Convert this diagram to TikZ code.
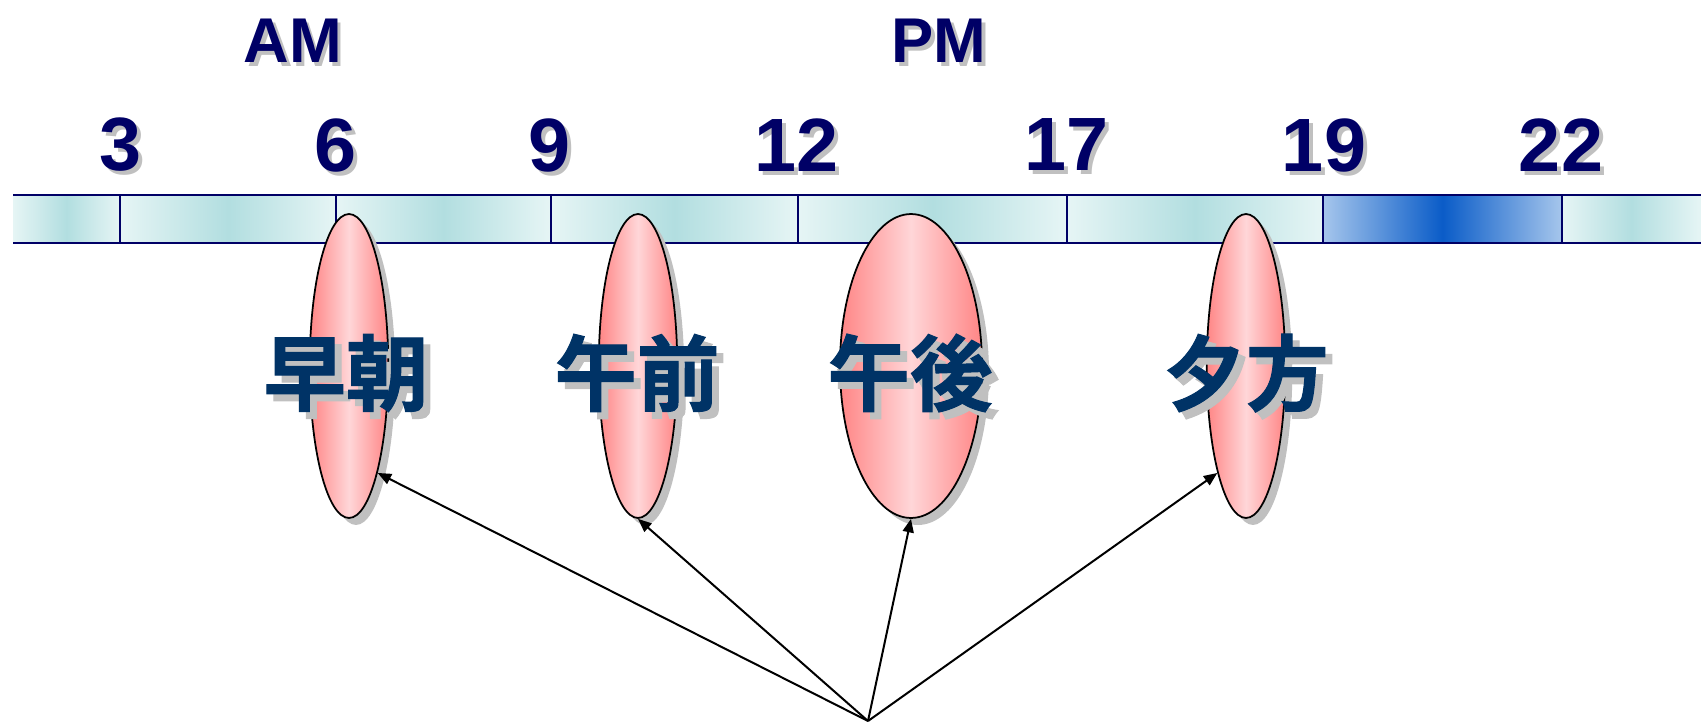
\documentclass[tikz,border=0pt]{standalone}
\usepackage{fontspec}
\setmainfont{Liberation Sans}
\newfontfamily\jpfont{Noto Sans CJK JP Bold}[FakeBold=1.2]
\usetikzlibrary{shapes.geometric,shadows,arrows.meta}

\definecolor{hournavy}{HTML}{000066}
\definecolor{lblblue}{HTML}{003366}
\definecolor{shadegray}{HTML}{C0C0C0}
\definecolor{barlight}{HTML}{E6F5F5}
\definecolor{barteal}{HTML}{B2DEE0}
\definecolor{nightlight}{HTML}{A6C6EC}
\definecolor{nightblue}{HTML}{0A5CC8}
\definecolor{pinkdeep}{HTML}{FF8585}
\definecolor{pinklight}{HTML}{FFD6D8}

\tikzset{
  daybar/.style={left color=barlight, right color=barlight, middle color=barteal},
  nightbar/.style={left color=nightlight, right color=nightlight, middle color=nightblue},
  barline/.style={draw=hournavy, line width=0.05cm},
  hourlbl/.style={font=\bfseries\fontsize{43}{43}\selectfont, text=hournavy, inner sep=0},
  hourlblshade/.style={hourlbl, text=shadegray, xshift=0.08cm, yshift=-0.08cm},
  ampm/.style={font=\bfseries\fontsize{36}{36}\selectfont, text=hournavy, inner sep=0},
  ampmshade/.style={ampm, text=shadegray, xshift=0.07cm, yshift=-0.07cm},
  period/.style={ellipse, draw=black, line width=0.035cm, inner sep=0,
    minimum width=1.57cm, minimum height=6.08cm,
    left color=pinkdeep, right color=pinkdeep, middle color=pinklight,
    drop shadow={shadow xshift=0.14cm, shadow yshift=-0.14cm, fill=shadegray, opacity=1}},
  periodlbl/.style={font=\jpfont\fontsize{47}{47}\selectfont, text=lblblue, inner sep=0},
  periodlblshade/.style={periodlbl, text=shadegray, xshift=0.14cm, yshift=-0.14cm},
  pointer/.style={-{Triangle[length=0.27cm, width=0.22cm]}, line width=0.04cm}
}

\begin{document}
\begin{tikzpicture}[x=0.02cm, y=-0.02cm]
\useasboundingbox (0,0) rectangle (1701,721);

% time bar
\shade[daybar] (13,195) rectangle (120,243);
\shade[daybar] (120,195) rectangle (336,243);
\shade[daybar] (336,195) rectangle (551,243);
\shade[daybar] (551,195) rectangle (798,243);
\shade[daybar] (798,195) rectangle (1067,243);
\shade[daybar] (1067,195) rectangle (1323,243);
\shade[nightbar] (1323,195) rectangle (1562,243);
\shade[daybar] (1562,195) rectangle (1701,243);
\draw[barline] (13,195) -- (1701,195);
\draw[barline] (13,243) -- (1701,243);
\draw[barline, line width=0.04cm] (120,195) -- (120,243);
\draw[barline, line width=0.04cm] (336,195) -- (336,243);
\draw[barline, line width=0.04cm] (551,195) -- (551,243);
\draw[barline, line width=0.04cm] (798,195) -- (798,243);
\draw[barline, line width=0.04cm] (1067,195) -- (1067,243);
\draw[barline, line width=0.04cm] (1323,195) -- (1323,243);
\draw[barline, line width=0.04cm] (1562,195) -- (1562,243);

% hours
\node[hourlblshade] (h3s) at (121,145) {3};
\node[hourlbl] (h3) at (121,145) {3};
\node[hourlblshade] (h6s) at (336,145) {6};
\node[hourlbl] (h6) at (336,145) {6};
\node[hourlblshade] (h9s) at (550,145) {9};
\node[hourlbl] (h9) at (550,145) {9};
\node[hourlblshade] (h12s) at (797,145) {12};
\node[hourlbl] (h12) at (797,145) {12};
\node[hourlblshade] (h17s) at (1067,145) {17};
\node[hourlbl] (h17) at (1067,145) {17};
\node[hourlblshade] (h19s) at (1324,145) {19};
\node[hourlbl] (h19) at (1324,145) {19};
\node[hourlblshade] (h22s) at (1561,145) {22};
\node[hourlbl] (h22) at (1561,145) {22};

\node[ampmshade] (ams) at (293,41) {AM};
\node[ampm] (am) at (293,41) {AM};
\node[ampmshade] (pms) at (939,41) {PM};
\node[ampm] (pm) at (939,41) {PM};

% periods of the day
\node[period] (e1) at (349,366) {};
\node[period] (e2) at (638,366) {};
\node[period, minimum width=2.84cm] (e3) at (911,366) {};
\node[period] (e4) at (1246,366) {};

\node[periodlblshade] (l1s) at (346,373) {早朝};
\node[periodlbl] (l1) at (346,373) {早朝};
\node[periodlblshade] (l2s) at (637,373) {午前};
\node[periodlbl] (l2) at (637,373) {午前};
\node[periodlblshade] (l3s) at (910,373) {午後};
\node[periodlbl] (l3) at (910,373) {午後};
\node[periodlblshade] (l4s) at (1246,373) {夕方};
\node[periodlbl] (l4) at (1246,373) {夕方};

% pointers
\coordinate (src) at (868,721);
\draw[pointer] (src) -- (e1.-75);
\draw[pointer] (src) -- (e2.south);
\draw[pointer] (src) -- (e3.south);
\draw[pointer] (src) -- (e4.-105);

\end{tikzpicture}
\end{document}
